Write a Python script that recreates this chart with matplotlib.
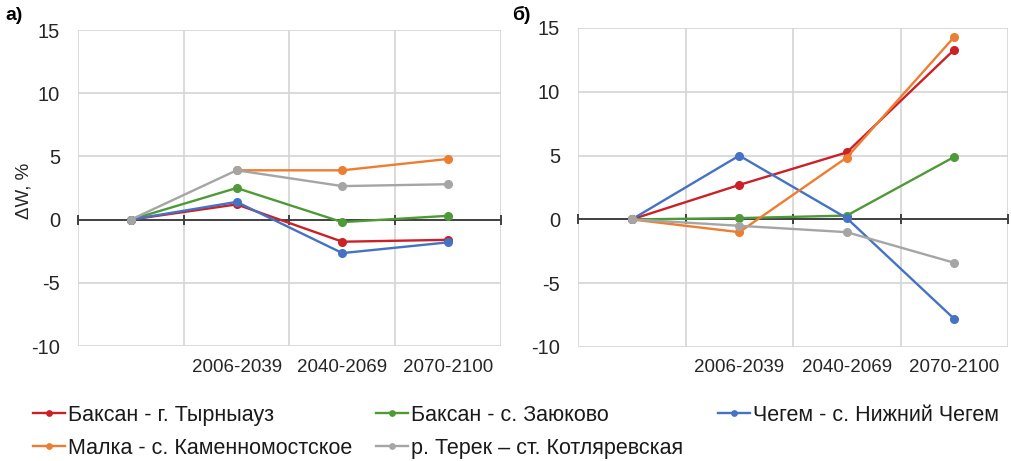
import numpy as np
import matplotlib
matplotlib.use("Agg")
import matplotlib.pyplot as plt

plt.rcParams['font.family'] = ['Liberation Sans', 'DejaVu Sans']
plt.rcParams['axes.unicode_minus'] = False

# Periods (first slot is the baseline, unlabeled)
periods = ['', '2006-2039', '2040-2069', '2070-2100']

series_names = [
    'Баксан - г. Тырныауз',
    'Баксан - с. Заюково',
    'Чегем - с. Нижний Чегем',
    'Малка - с. Каменномостское',
    'р. Терек – ст. Котляревская',
]
series_colors = ['#CC1F26', '#4E9A38', '#4472C4', '#ED7D31', '#A5A5A5']

# Panel а) changes of runoff, %
a_tyrnyauz = [0, 1.2, -1.75, -1.6]
a_zayukovo = [0, 2.5, -0.2, 0.3]
a_chegem = [0, 1.4, -2.65, -1.8]
a_malka = [np.nan, 3.9, 3.9, 4.8]
a_terek = [0, 3.9, 2.65, 2.8]

# Panel б) changes of runoff, %
b_tyrnyauz = [0, 2.7, 5.25, 13.3]
b_zayukovo = [0, 0.1, 0.3, 4.9]
b_chegem = [0, 5.0, 0.1, -7.8]
b_malka = [0, -1.0, 4.85, 14.3]
b_terek = [0, -0.5, -1.0, -3.4]

panel_a = [a_tyrnyauz, a_zayukovo, a_chegem, a_malka, a_terek]
panel_b = [b_tyrnyauz, b_zayukovo, b_chegem, b_malka, b_terek]

W, H = 1012, 461
fig = plt.figure(figsize=(W / 100, H / 100), dpi=100)


def px_axes(left, top, right, bottom):
    return fig.add_axes([left / W, 1 - bottom / H, (right - left) / W, (bottom - top) / H])


def draw_panel(ax, data):
    x = np.arange(len(periods))
    bounds = np.arange(len(periods) + 1) - 0.5
    ax.set_xlim(bounds[0], bounds[-1])
    ax.set_ylim(-10, 15)
    ax.set_yticks([-10, -5, 0, 5, 10, 15])
    ax.set_xticks(x)
    ax.set_xticklabels(periods)
    ax.tick_params(axis='both', length=0, colors='#262626')
    ax.tick_params(axis='x', pad=9, labelsize=13.5)
    ax.tick_params(axis='y', pad=13, labelsize=14.5)
    for b in bounds:
        ax.axvline(b, color='#D4D4D4', lw=1.2, zorder=0)
    for yv in [-10, -5, 5, 10, 15]:
        ax.axhline(yv, color='#D4D4D4', lw=1.2, zorder=0)
    for s in ax.spines.values():
        s.set_visible(False)
    ax.axhline(0, color='#404040', lw=1.4, zorder=1)
    ax.plot(bounds, np.zeros_like(bounds), ls='none', marker='|', ms=7,
            mew=1.4, color='#404040', zorder=1, clip_on=False)
    handles = []
    for vals, col, name in zip(data, series_colors, series_names):
        h, = ax.plot(x, vals, color=col, lw=1.7, marker='o', ms=5.5,
                     label=name, zorder=3, clip_on=False)
        handles.append(h)
    return handles


ax_a = px_axes(78, 30, 501, 346)
handles = draw_panel(ax_a, panel_a)
ax_a.set_ylabel('ΔW, %', fontsize=13.5, color='#262626')
ax_a.yaxis.set_label_coords(-0.108, 0.49)

ax_b = px_axes(578, 28, 1008, 347)
draw_panel(ax_b, panel_b)

fig.text(5, H - 15, 'а)', transform=None, fontsize=14, fontweight='bold',
         va='center', ha='left')
fig.text(512, H - 15, 'б)', transform=None, fontsize=14, fontweight='bold',
         va='center', ha='left')

# Legend laid out in three fixed columns, two rows
columns = [([0, 3], 22), ([1, 4], 365), ([2], 707)]
for idx, xpx in columns:
    leg = fig.legend([handles[i] for i in idx], [series_names[i] for i in idx],
                     loc='upper left', bbox_to_anchor=(xpx / W, 1 - 394 / H),
                     frameon=False, fontsize=15.5, handlelength=1.5,
                     handletextpad=0.15, labelspacing=0.55, borderpad=0,
                     markerscale=0.7)
    for t in leg.get_texts():
        t.set_color('#1A1A1A')

fig.savefig('out.png', dpi=100)
